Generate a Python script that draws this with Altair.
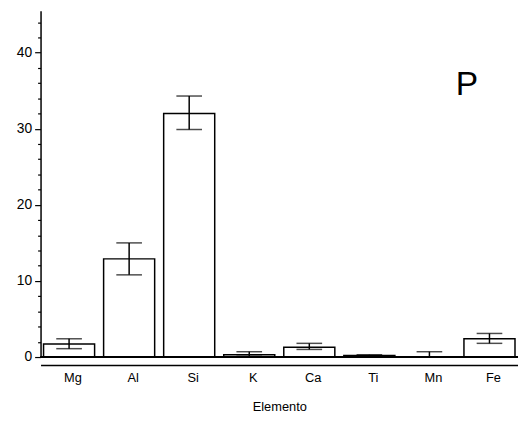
import altair as alt
import pandas as pd

elements = ["Mg", "Al", "Si", "K", "Ca", "Ti", "Mn", "Fe"]
means = [1.7, 12.9, 32.0, 0.3, 1.3, 0.2, 0.05, 2.4]
lows = [1.1, 10.8, 29.9, 0.1, 1.0, 0.15, 0.0, 1.8]
highs = [2.4, 15.0, 34.3, 0.7, 1.8, 0.3, 0.7, 3.1]
ytick_values = list(range(0, 46, 2))

df = pd.DataFrame({"Elemento": elements, "mean": means, "lo": lows, "hi": highs, "z": [0.0] * 8})

FONT = "Liberation Sans"

x_axis = alt.Axis(
    labelAngle=0, offset=8, domainColor="black", domainWidth=1.5,
    ticks=False, labelFont=FONT, labelFontSize=13, labelColor="black",
    labelPadding=7, labelOffset=4, titleFont=FONT, titleFontSize=13,
    titleFontWeight="normal", titleColor="black", titlePadding=16, grid=False,
)
x_scale = alt.Scale(paddingInner=0.15, paddingOuter=0.05)
y_axis = alt.Axis(
    values=ytick_values,
    labelExpr="datum.value % 10 === 0 ? datum.label : ''",
    labelOverlap=False,
    tickSize={"condition": {"test": "datum.value % 10 === 0", "value": 6}, "value": 3},
    tickColor="black", tickWidth=1.2, domainColor="black", domainWidth=1.5,
    labelFont=FONT, labelFontSize=14, labelColor="black", grid=False,
    labelPadding=3,
)
y_scale = alt.Scale(domain=[0, 45.5], nice=False, zero=True)


def X():
    return alt.X("Elemento:N", sort=elements, title="Elemento", scale=x_scale, axis=x_axis)


def Y(field):
    return alt.Y(field, type="quantitative", scale=y_scale, axis=y_axis, title=None)


base = alt.Chart(df)

bars = base.mark_bar(fill="white", stroke="black", strokeWidth=1.5).encode(x=X(), y=Y("mean"))
zero = base.mark_rule(color="black", strokeWidth=1.2).encode(y=Y("z"))
err = base.mark_rule(color="black", strokeWidth=1.5).encode(x=X(), y=Y("lo"), y2="hi:Q")
cap_hi = base.mark_tick(color="black", size=26, thickness=1.5, orient="horizontal").encode(
    x=X(), y=Y("hi")
)
cap_lo = base.mark_tick(color="black", size=26, thickness=1.5, orient="horizontal").encode(
    x=X(), y=Y("lo")
)

label = alt.Chart(pd.DataFrame({"t": ["P"]})).mark_text(
    font=FONT, fontSize=34, color="black", align="left", baseline="alphabetic"
).encode(text="t:N", x=alt.value(421), y=alt.value(85))

chart = (
    alt.layer(bars, zero, err, cap_hi, cap_lo, label)
    .properties(
        width=484, height=351,
        autosize=alt.AutoSizeParams(type="none"),
        padding={"left": 33, "top": 0, "right": 0, "bottom": 62},
        background="white",
    )
    .configure_view(stroke=None)
    .configure_axis(grid=False)
)

chart.save("out.html", embed_options={"renderer": "svg", "actions": False})
